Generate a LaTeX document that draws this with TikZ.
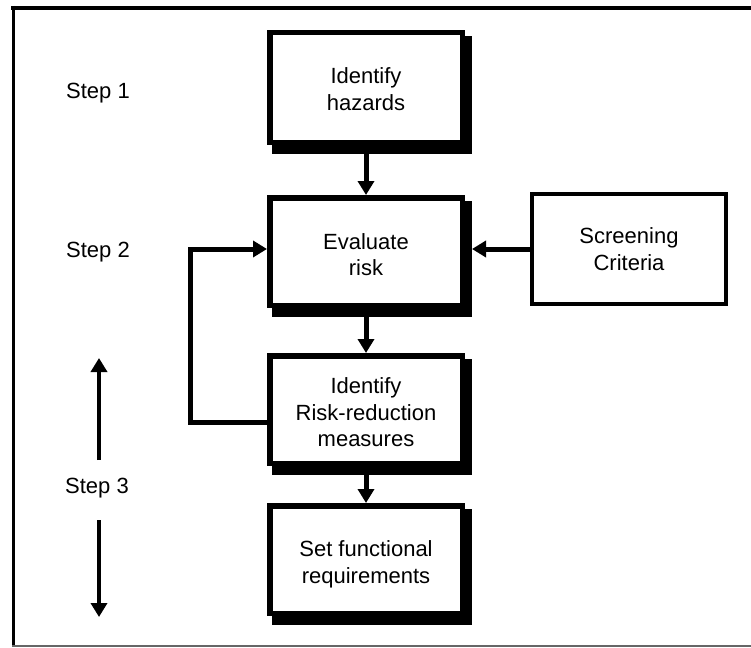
\documentclass[tikz,border=0pt]{standalone}
\usepackage{fontspec}
\setmainfont{Liberation Sans}
\usetikzlibrary{arrows.meta,backgrounds}
\begin{document}
\begin{tikzpicture}[x=1pt,y=-1pt,
  txt/.style={font=\fontsize{22}{26.5}\selectfont},
  box/.style={draw, line width=5.5pt, fill=white, minimum width=192.5pt,
    minimum height=107.5pt, inner sep=0pt},
  boxtext/.style={txt, align=center, inner sep=0pt},
  plainbox/.style={txt, draw, line width=4pt, fill=white, minimum width=194pt,
    minimum height=110pt, align=center, inner sep=0pt},
  steplabel/.style={txt, inner sep=0pt},
  arr/.style={line width=5pt, line join=miter, -{Triangle[length=14pt,width=16pt]}},
]
\useasboundingbox (0,0) rectangle (751,647);

% outer frame
\draw[line width=4.5pt] (11,8) -- (751,8);
\draw[line width=3pt] (13.5,6) -- (13.5,647);
\draw[line width=2pt, draw=black!60] (12,645.5) -- (751,645.5);

% process boxes
\node[box, minimum height=110pt] (b1) at (366,87.75) {};
\node[box] (b2) at (366,251.5) {};
\node[box] (b3) at (366,409.5) {};
\node[box] (b4) at (366,559.5) {};
\node[plainbox] (scr) at (629,249) {Screening\\Criteria};

% box captions, set slightly below centre
\node[boxtext] (b1t) at ([yshift=-1.5pt]b1.center) {Identify\\hazards};
\node[boxtext] (b2t) at ([yshift=-3pt]b2.center) {Evaluate\\risk};
\node[boxtext] (b3t) at ([yshift=-3pt]b3.center) {Identify\\Risk-reduction\\measures};
\node[boxtext] (b4t) at ([yshift=-5pt]b4.center) {Set functional\\requirements};

% drop shadows behind the process boxes
\begin{scope}[on background layer]
  \foreach \n in {b1,b2,b3,b4}
    \fill ([shift={(5,6)}]\n.north west) rectangle ([shift={(7,9)}]\n.south east);
\end{scope}

% step labels
\node[steplabel] (s1) at (98,93) {Step 1};
\node[steplabel] (s2) at (98,252) {Step 2};
\node[steplabel] (s3) at (97,488) {Step 3};

% main flow
\draw[arr] (b1.south) -- (b2.north);
\draw[arr] (b2.south) -- (b3.north);
\draw[arr] (b3.south) -- (b4.north);
\draw[arr] (scr.west) -- ([xshift=7pt]scr.west -| b2.east);

% feedback loop
\coordinate (fbA) at (190,422);
\coordinate (fbB) at (190,249);
\draw[arr] (b3.west |- fbA) -- (fbA) -- (fbB) -- (b2.west |- fbB);

% step 3 span arrows
\coordinate (upA) at (99,460);
\coordinate (upB) at (99,358);
\coordinate (dnA) at (99,520);
\coordinate (dnB) at (99,617);
\draw[arr, line width=4.5pt] (upA) -- (upB);
\draw[arr, line width=4.5pt] (dnA) -- (dnB);
\end{tikzpicture}
\end{document}
